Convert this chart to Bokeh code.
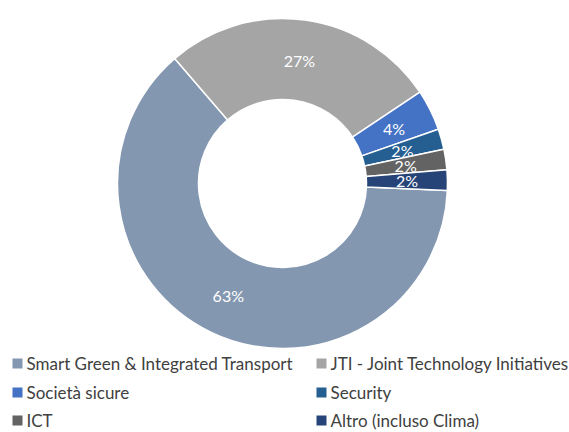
import math
from bokeh.plotting import figure
from bokeh.models import ColumnDataSource
from bokeh.core.properties import value
from bokeh.embed import file_html
from bokeh.resources import INLINE

# Shares of funding by programme area (percent)
categories = [
    "Smart Green & Integrated Transport",
    "JTI - Joint Technology Initiatives",
    "Società sicure",
    "Security",
    "ICT",
    "Altro (incluso Clima)",
]
shares = [63, 27, 4, 2, 2, 2]
colors = ["#8497B0", "#A5A5A5", "#4472C4", "#255E91", "#636363", "#264478"]

W, H = 569, 432
cx, cy = 282, H - 183          # ring centre (y measured from the bottom)
r_out, r_in = 165, 84
first_angle = -2.4             # degrees, first slice starts just below 3 o'clock

p = figure(width=W, height=H, x_range=(0, W), y_range=(0, H),
           x_axis_type=None, y_axis_type=None, toolbar_location=None,
           output_backend="svg", min_border=0)
p.grid.visible = False
p.outline_line_color = None
p.background_fill_color = "white"

total = sum(shares)
starts, ends, lx, ly, labels = [], [], [], [], []
a = first_angle
r_mid = (r_out + r_in) / 2
for v in shares:
    sweep = v / total * 360.0
    b = a - sweep                # slices run clockwise
    starts.append(math.radians(b))
    ends.append(math.radians(a))
    mid = math.radians((a + b) / 2)
    lx.append(cx + r_mid * math.cos(mid))
    ly.append(cy + r_mid * math.sin(mid))
    labels.append(f"{round(v / total * 100)}%")
    a = b

src = ColumnDataSource(dict(start=starts, end=ends, color=colors,
                            lx=lx, ly=ly, label=labels))
p.annular_wedge(x=cx, y=cy, inner_radius=r_in, outer_radius=r_out,
                inner_radius_units="screen", outer_radius_units="screen",
                start_angle="start", end_angle="end", direction="anticlock",
                fill_color="color", line_color="white", line_width=1.5,
                source=src)
p.text(x="lx", y="ly", text="label", source=src,
       text_font=value("Lato"), text_font_size="16px", text_color="white",
       text_align="center", text_baseline="middle")

# Legend: two columns, three rows, square swatches
col_x = [12, 316]
row_y = [363, 392, 420]
sw = 10
leg_x, leg_y, sq_x, sq_y = [], [], [], []
for i, name in enumerate(categories):
    c = i % 2
    r = i // 2
    sq_x.append(col_x[c] + sw / 2)
    sq_y.append(H - row_y[r])
    leg_x.append(col_x[c] + sw + 4)
    leg_y.append(H - row_y[r])
leg = ColumnDataSource(dict(sx=sq_x, sy=sq_y, tx=leg_x, ty=leg_y,
                            name=categories, color=colors))
p.rect(x="sx", y="sy", width=sw, height=sw, width_units="screen",
       height_units="screen", fill_color="color", line_color=None, source=leg)
p.text(x="tx", y="ty", text="name", source=leg,
       text_font=value("Lato"), text_font_size="17px", text_color="#404040",
       text_align="left", text_baseline="middle")

open("out.html", "w").write(file_html(p, INLINE))
